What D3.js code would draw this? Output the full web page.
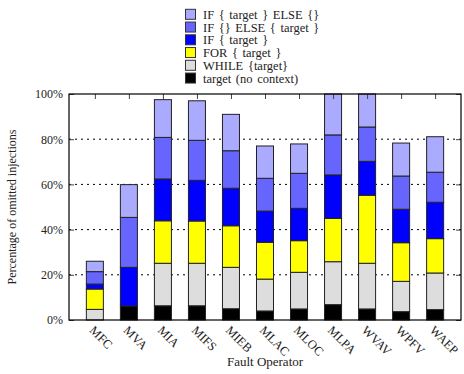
<!DOCTYPE html>
<html><head><meta charset="utf-8">
<script src="https://cdn.jsdelivr.net/npm/d3@7"></script>
<style>body{margin:0;background:#fff}svg{display:block}text{font-family:"Liberation Serif","DejaVu Serif",serif;fill:#222}</style>
</head><body><svg id="c" width="464" height="374"></svg>
<script>
const categories = ["MFC","MVA","MIA","MIFS","MIEB","MLAC","MLOC","MLPA","WVAV","WPFV","WAEP"];
const seriesNames = ["target (no context)","WHILE {target}","FOR { target }","IF { target }","IF {} ELSE { target }","IF { target } ELSE {}"];
const seriesColors = ["#000000","#dddddd","#ffff00","#0000ff","#6666ff","#aaaaff"];
// cumulative tops (%), per series
const noContext = [0, 6.2, 6.3, 6.3, 5.0, 4.0, 4.9, 6.8, 4.9, 3.7, 4.6];
const whileTop  = [4.7, 6.2, 25.1, 25.1, 23.3, 18.1, 21.1, 25.8, 25.1, 17.1, 20.8];
const forTop    = [13.7, 6.2, 43.9, 43.8, 41.7, 34.4, 35.1, 45.0, 55.2, 34.2, 36.0];
const ifTop     = [15.9, 23.3, 62.4, 61.8, 58.3, 48.2, 49.4, 64.2, 70.2, 49.0, 52.1];
const ifElseTop = [21.4, 45.4, 80.8, 79.5, 74.9, 62.7, 64.9, 81.9, 85.4, 63.7, 65.4];
const ifTgtElseTop = [26.0, 59.9, 97.5, 97.0, 91.0, 77.0, 77.9, 100, 100, 78.3, 81.1];
const yTicks = [0,20,40,60,80,100];

const tops = [noContext, whileTop, forTop, ifTop, ifElseTop, ifTgtElseTop];
const svg = d3.select("#c");
const L=69, R=461, T=94, B=320;
const x = d3.scaleLinear().domain([-0.76, categories.length-0.24]).range([L,R]);
const y = d3.scaleLinear().domain([0,100]).range([B,T]);
const bw = x(0.25)-x(-0.25);

// grid
svg.append("g").selectAll("line").data(yTicks.filter(d=>d>0&&d<100)).join("line")
  .attr("x1",L).attr("x2",R).attr("y1",d=>y(d)).attr("y2",d=>y(d))
  .attr("stroke","#000").attr("stroke-width",1).attr("stroke-dasharray","2,4");

// bars
const g = svg.append("g");
categories.forEach((c,i)=>{
  for(let s=0;s<tops.length;s++){
    const lo = s===0?0:tops[s-1][i], hi = tops[s][i];
    if(hi-lo<=0) continue;
    g.append("rect").attr("x",x(i)-bw/2).attr("width",bw)
      .attr("y",y(hi)).attr("height",y(lo)-y(hi))
      .attr("fill",seriesColors[s]).attr("stroke","#222").attr("stroke-width",1);
  }
});

// axes
const yAxis = d3.axisLeft(y).tickValues(yTicks).tickFormat(d=>d+"%").tickSizeInner(-5).tickSizeOuter(0).tickPadding(6);
const ya = svg.append("g").attr("transform",`translate(${L},0)`).call(yAxis);
ya.select(".domain").remove();
ya.selectAll("text").style("font-size","12px").style("font-family","Liberation Serif");
const yr = d3.axisRight(y).tickValues(yTicks).tickFormat("").tickSizeInner(-5).tickSizeOuter(0);
const yra = svg.append("g").attr("transform",`translate(${R},0)`).call(yr); yra.select(".domain").remove();
const xt = d3.axisBottom(x).tickValues(d3.range(categories.length)).tickFormat("").tickSizeInner(5).tickSizeOuter(0);
const xta = svg.append("g").attr("transform",`translate(0,${T})`).call(xt); xta.select(".domain").remove();
svg.selectAll(".tick line").attr("stroke","#444");

svg.append("rect").attr("x",L).attr("y",T).attr("width",R-L).attr("height",B-T)
  .attr("fill","none").attr("stroke","#000").attr("stroke-width",1.2);

// x labels
svg.append("g").selectAll("text").data(categories).join("text")
  .attr("transform",(d,i)=>`translate(${x(i)-4},${B+9}) rotate(45)`)
  .attr("text-anchor","start").attr("dominant-baseline","middle")
  .style("font-size","12.5px").text(d=>d);

svg.append("text").attr("x",265).attr("y",366).attr("text-anchor","middle").style("font-size","13px").text("Fault Operator");
svg.append("text").attr("transform",`translate(16,207) rotate(-90)`).attr("text-anchor","middle").style("font-size","12px").text("Percentage of omitted injections");

// legend
const order = [5,4,3,2,1,0];
const lg = svg.append("g");
order.forEach((s,k)=>{
  const cy = 14.3 + k*12.75;
  lg.append("rect").attr("x",185.5).attr("y",cy-5).attr("width",10).attr("height",10)
    .attr("fill",seriesColors[s]).attr("stroke","#333").attr("stroke-width",1);
  lg.append("text").attr("x",203).attr("y",cy+0.5).attr("dominant-baseline","central")
    .style("font-size","12.5px").style("word-spacing","1.5px").text(seriesNames[s]);
});
</script></body></html>
